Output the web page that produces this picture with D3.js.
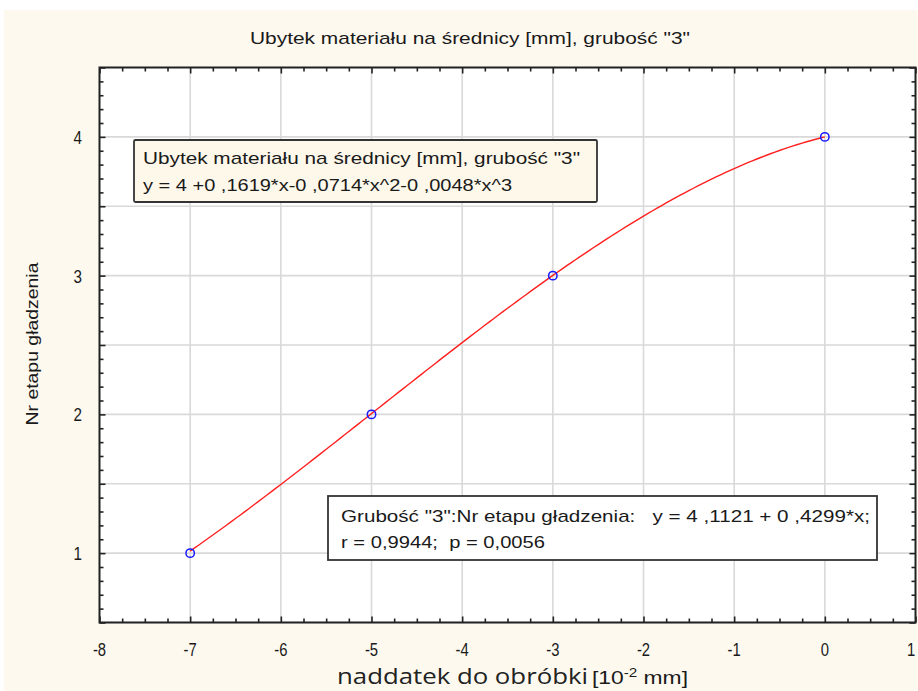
<!DOCTYPE html>
<html>
<head>
<meta charset="utf-8">
<script src="https://cdn.jsdelivr.net/npm/d3@7/dist/d3.min.js"></script>
<style>
  html, body { margin: 0; padding: 0; background: #ffffff; }
  svg { display: block; }
  text { font-family: "Liberation Sans", Arial, sans-serif; fill: #1a1a1a; white-space: pre; }
</style>
</head>
<body>
<svg id="chart" width="918" height="691"></svg>
<script>
// Measured points: allowance (x) vs smoothing stage number (y)
const allowance = [-7, -5, -3, 0];
const stage = [1, 2, 3, 4];

// Cubic fit coefficients: y = c0 + c1*x + c2*x^2 + c3*x^3
const cubicCoef = [4, 0.1619, -0.0714, -0.0048];

const xTickValues = [-8, -7, -6, -5, -4, -3, -2, -1, 0, 1];
const yTickValues = [1, 2, 3, 4];

const titleText = "Ubytek materiału na średnicy [mm], grubość \"3\"";
const fitBoxLines = [
  "Ubytek materiału na średnicy [mm], grubość \"3\"",
  "y = 4 +0 ,1619*x-0 ,0714*x^2-0 ,0048*x^3"
];
const regBoxLines = [
  "Grubość \"3\":Nr etapu gładzenia:   y = 4 ,1121 + 0 ,4299*x;",
  "r = 0,9944;  p = 0,0056"
];
const yLabel = "Nr etapu gładzenia";

const svg = d3.select("#chart");
const W = 918, H = 691;

// outer panel
svg.append("rect").attr("x", 4).attr("y", 10).attr("width", W - 4).attr("height", H - 10)
  .attr("fill", "#fdf9ef");

const x = d3.scaleLinear().domain([-8, 1]).range([99.5, 915.5]);
const y = d3.scaleLinear().domain([0.5, 4.5]).range([622.5, 67.5]);

// plot background
svg.append("rect")
  .attr("x", x(-8)).attr("y", y(4.5))
  .attr("width", x(1) - x(-8)).attr("height", y(0.5) - y(4.5))
  .attr("fill", "#ffffff");

// grid
const grid = svg.append("g").attr("stroke", "#d9d9d9").attr("stroke-width", 1.6);
grid.selectAll("line.v").data(d3.range(-7, 1)).join("line")
  .attr("x1", d => x(d)).attr("x2", d => x(d))
  .attr("y1", y(4.5)).attr("y2", y(0.5));
grid.selectAll("line.h").data(d3.range(1, 9).map(i => 0.5 * i)).join("line")
  .attr("x1", x(-8)).attr("x2", x(1))
  .attr("y1", d => y(d)).attr("y2", d => y(d));

// inward ticks on all four sides
const xMinor = d3.range(0, 37).map(i => -8 + i * 0.25);
const yMinor = d3.range(0, 41).map(i => +(0.5 + i * 0.1).toFixed(2));
const isInt = v => Math.abs(v - Math.round(v)) < 1e-6;
const isHalf = v => Math.abs(v * 2 - Math.round(v * 2)) < 1e-6;

const axisG = svg.append("g");
axisG.append("g").attr("transform", `translate(0,${y(0.5)})`)
  .call(d3.axisTop(x).tickValues(xMinor).tickFormat("").tickSizeOuter(0))
  .call(g => g.selectAll(".tick line").attr("y2", d => isInt(d) ? -6 : -4));
axisG.append("g").attr("transform", `translate(0,${y(4.5)})`)
  .call(d3.axisBottom(x).tickValues(xMinor).tickFormat("").tickSizeOuter(0))
  .call(g => g.selectAll(".tick line").attr("y2", d => isInt(d) ? 6 : 4));
axisG.append("g").attr("transform", `translate(${x(-8)},0)`)
  .call(d3.axisRight(y).tickValues(yMinor).tickFormat("").tickSizeOuter(0))
  .call(g => g.selectAll(".tick line").attr("x2", d => isHalf(d) ? 6 : 4));
axisG.append("g").attr("transform", `translate(${x(1)},0)`)
  .call(d3.axisLeft(y).tickValues(yMinor).tickFormat("").tickSizeOuter(0))
  .call(g => g.selectAll(".tick line").attr("x2", d => isHalf(d) ? -6 : -4));
axisG.selectAll(".domain").remove();
axisG.selectAll(".tick line").attr("stroke", "#222").attr("stroke-width", 1.6);

// frame
svg.append("rect")
  .attr("x", x(-8)).attr("y", y(4.5))
  .attr("width", x(1) - x(-8)).attr("height", y(0.5) - y(4.5))
  .attr("fill", "none").attr("stroke", "#222").attr("stroke-width", 2);

// tick labels (condensed glyphs)
svg.append("g").selectAll("text").data(xTickValues).join("text")
  .attr("transform", d => `translate(${Math.min(x(d), 911)},656) scale(0.78,1)`)
  .attr("text-anchor", "middle")
  .style("font-size", "19px")
  .text(d => d3.format("d")(d).replace("−", "-"));
svg.append("g").selectAll("text").data(yTickValues).join("text")
  .attr("transform", d => `translate(82,${y(d) + 7}) scale(0.8,1)`)
  .attr("text-anchor", "end")
  .style("font-size", "19px")
  .text(d => d);

// fitted cubic, evaluated across the measured range
const poly = v => cubicCoef.reduce((s, c, i) => s + c * Math.pow(v, i), 0);
const xs = d3.range(0, 141).map(i => allowance[0] + i * (allowance[allowance.length - 1] - allowance[0]) / 140);
svg.append("path")
  .datum(xs)
  .attr("fill", "none").attr("stroke", "#ff2020").attr("stroke-width", 1.4)
  .attr("d", d3.line().x(d => x(d)).y(d => y(poly(d))));

// measured points
svg.append("g").selectAll("circle").data(allowance.map((v, i) => [v, stage[i]])).join("circle")
  .attr("cx", d => x(d[0])).attr("cy", d => y(d[1])).attr("r", 4.2)
  .attr("fill", "none").attr("stroke", "#1a1aff").attr("stroke-width", 1.5);

// helper: text stretched to a given width
function fitText(sel, str, px, py, width, size, family) {
  const t = sel.append("text").attr("x", px).attr("y", py)
    .attr("xml:space", "preserve")
    .style("font-size", size + "px").text(str);
  if (family) t.style("font-family", family);
  if (width) t.attr("textLength", width).attr("lengthAdjust", "spacingAndGlyphs");
  return t;
}

// title
fitText(svg, titleText, 250, 44, 440, 17);

// cubic fit annotation box
svg.append("rect").attr("x", 134).attr("y", 140).attr("width", 463).attr("height", 62)
  .attr("fill", "#fdf8ea").attr("stroke", "#333").attr("stroke-width", 1.8).attr("rx", 1.5);
fitText(svg, fitBoxLines[0], 143, 164, 437, 17);
fitText(svg, fitBoxLines[1], 143, 191, 369, 17);

// regression annotation box
svg.append("rect").attr("x", 328).attr("y", 496).attr("width", 549).attr("height", 64)
  .attr("fill", "#ffffff").attr("stroke", "#333").attr("stroke-width", 1.8);
fitText(svg, regBoxLines[0], 341, 522, 529, 17);
fitText(svg, regBoxLines[1], 341, 548, 204, 17);

// axis titles
fitText(svg, "naddatek do obróbki", 337, 684, 251, 22, "'Open Sans', 'Noto Sans', sans-serif").style("fill", "#222");
const unit = svg.append("text").attr("x", 592).attr("y", 684)
  .attr("textLength", 96).attr("lengthAdjust", "spacingAndGlyphs")
  .style("font-size", "18px");
unit.append("tspan").text("[10");
unit.append("tspan").attr("dy", -7).style("font-size", "12px").text("-2");
unit.append("tspan").attr("dy", 7).text(" mm]");

svg.append("text")
  .attr("transform", "translate(38,344) rotate(-90)")
  .attr("text-anchor", "middle")
  .attr("textLength", 163).attr("lengthAdjust", "spacingAndGlyphs")
  .style("font-size", "17px")
  .text(yLabel);
</script>
</body>
</html>
